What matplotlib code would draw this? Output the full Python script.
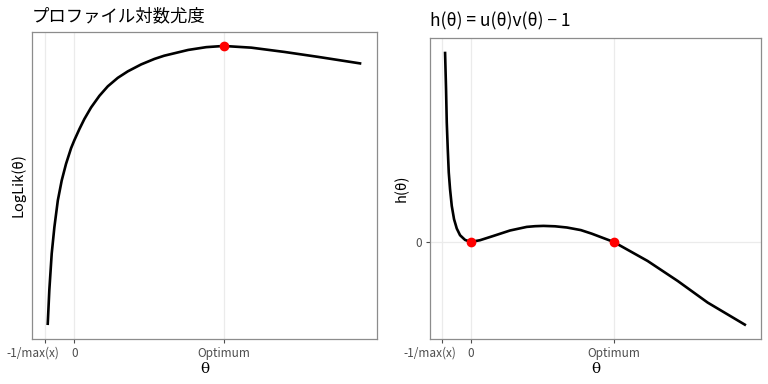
import matplotlib
matplotlib.use("Agg")
import matplotlib.pyplot as plt
import matplotlib.transforms as mtransforms

plt.rcParams['font.family'] = ['Noto Sans CJK JP', 'DejaVu Sans']

# profile log-likelihood (left panel)
theta_ll = [-0.179, -0.168, -0.152, -0.134, -0.111, -0.085, -0.056, -0.022, 0.0,
            0.034, 0.067, 0.112, 0.168, 0.224, 0.291, 0.358, 0.448, 0.537, 0.602,
            0.763, 0.884, 1.0, 1.186, 1.408, 1.636, 1.924]
loglik = [-123.0, -119.5, -115.83, -113.17, -110.5, -108.5, -106.83, -105.25, -104.45,
          -103.33, -102.33, -101.17, -100.0, -99.05, -98.2, -97.55, -96.85, -96.3, -95.98,
          -95.4, -95.12, -95.0, -95.17, -95.6, -96.1, -96.77]

# h(theta) (right panel)
theta_h = [-0.180, -0.173, -0.168, -0.161, -0.154, -0.145, -0.133, -0.117, -0.098,
           -0.075, -0.040, 0.0, 0.065, 0.159, 0.275, 0.392, 0.45, 0.509, 0.59, 0.673,
           0.771, 0.846, 1.0, 1.238, 1.449, 1.659, 1.927]
h_vals = [1.90, 1.527, 1.194, 0.927, 0.694, 0.527, 0.36, 0.227, 0.134,
          0.067, 0.02, 0.0, 0.017, 0.06, 0.114, 0.15, 0.157, 0.16, 0.156, 0.144,
          0.118, 0.083, 0.0, -0.190, -0.390, -0.606, -0.833]

tick_pos = [-0.2, 0.0, 1.0]
tick_lab = ["-1/max(x)", "0", "Optimum"]
opt_theta = 1.0
opt_ll = -95.0
roots = [0.0, 1.0]

W, H = 768, 384
fig = plt.figure(figsize=(7.68, 3.84), dpi=100)


def style(ax):
    for s in ax.spines.values():
        s.set_color("#8c8c8c")
        s.set_linewidth(0.9)
    ax.grid(True, color="#ebebeb", lw=0.9)
    ax.set_axisbelow(True)
    ax.tick_params(colors="#4d4d4d", labelsize=8.5, length=3, width=0.8, pad=2.5)
    ax.set_xticks(tick_pos)
    ax.set_xticklabels(tick_lab)
    # the first label sits a little left of its tick, as in the original
    lab = ax.get_xticklabels()[0]
    lab.set_transform(lab.get_transform() +
                      mtransforms.ScaledTranslation(-12 / 100, 0, fig.dpi_scale_trans))
    ax.set_xlabel("θ", family="DejaVu Serif", fontsize=11, labelpad=2)


ax1 = fig.add_axes([32 / W, 1 - 339 / H, 345 / W, 307 / H])
ax1.plot(theta_ll, loglik, color="black", lw=1.9, solid_capstyle="butt")
ax1.plot([opt_theta], [opt_ll], "o", color="red", ms=6)
style(ax1)
ax1.set_yticks([])
ax1.set_ylabel("LogLik(θ)", fontsize=10.5, labelpad=5)
ax1.set_title("プロファイル対数尤度", loc="left", fontsize=12.5, pad=8)

ax2 = fig.add_axes([430 / W, 1 - 339 / H, 331 / W, 301 / H])
ax2.plot(theta_h, h_vals, color="black", lw=1.9, solid_capstyle="butt")
ax2.plot(roots, [0, 0], "o", color="red", ms=6)
style(ax2)
ax2.set_yticks([0])
ax2.set_ylabel("h(θ)", fontsize=10.5, labelpad=5)
ax2.set_title("h(θ) = u(θ)v(θ) − 1", loc="left", fontsize=12.5, pad=8)

fig.savefig("out.png", dpi=100)
